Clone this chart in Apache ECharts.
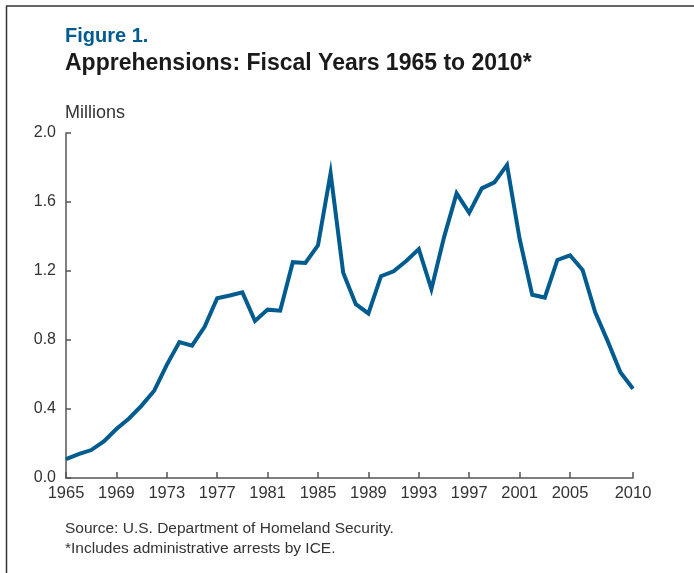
<!DOCTYPE html>
<html>
<head>
<meta charset="utf-8">
<script src="https://cdn.jsdelivr.net/npm/echarts@6/dist/echarts.min.js"></script>
<style>
html,body{margin:0;padding:0;background:#fff;}
#c{width:694px;height:573px;}
</style>
</head>
<body>
<div id="c"></div>
<script>
var years = [];
for (var y = 1965; y <= 2010; y++) years.push(String(y));
var apprehensions = [
  0.110, 0.139, 0.162, 0.212, 0.284, 0.345, 0.420, 0.506, 0.656, 0.788,
  0.767, 0.876, 1.042, 1.058, 1.076, 0.910, 0.976, 0.970, 1.251, 1.247,
  1.349, 1.767, 1.190, 1.008, 0.954, 1.170, 1.198, 1.258, 1.327, 1.095,
  1.395, 1.650, 1.537, 1.679, 1.714, 1.815, 1.387, 1.062, 1.046, 1.264,
  1.291, 1.206, 0.961, 0.792, 0.613, 0.517
];
var xTickLabels = ['1965','1969','1973','1977','1981','1985','1989','1993','1997','2001','2005','2010'];

var chart = echarts.init(document.getElementById('c'), null, {renderer: 'canvas'});
var font = '"Liberation Sans", Arial, sans-serif';
function showTick(idx, val) { return xTickLabels.indexOf(val) >= 0; }
chart.setOption({
  backgroundColor: '#ffffff',
  animation: false,
  textStyle: {fontFamily: font},
  title: [
    {text: 'Figure 1.', left: 60, top: 21, padding: 5, textStyle: {fontFamily: font, fontSize: 20, fontWeight: 'bold', color: '#005b8f'}},
    {text: 'Apprehensions: Fiscal Years 1965 to 2010*', left: 60, top: 47, padding: 5, textStyle: {fontFamily: font, fontSize: 23, fontWeight: 'bold', color: '#1a1a1a'}},
    {text: 'Millions', left: 60, top: 99, padding: 5, textStyle: {fontFamily: font, fontSize: 18, fontWeight: 'normal', color: '#333'}},
    {text: 'Source: U.S. Department of Homeland Security.\n*Includes administrative arrests by ICE.', left: 60, top: 514, padding: 5,
      textStyle: {fontFamily: font, fontSize: 15.5, fontWeight: 'normal', color: '#333', lineHeight: 20}}
  ],
  graphic: [
    {type: 'line', shape: {x1: 6, y1: 6, x2: 694, y2: 6}, style: {stroke: '#333', lineWidth: 1.5}},
    {type: 'line', shape: {x1: 6.5, y1: 6, x2: 6.5, y2: 573}, style: {stroke: '#333', lineWidth: 1.5}}
  ],
  grid: {left: 66, right: 61, top: 133, bottom: 95, containLabel: false},
  xAxis: {
    type: 'category',
    data: years,
    boundaryGap: false,
    axisLine: {lineStyle: {color: '#555', width: 1.5}},
    axisTick: {inside: true, length: 6, interval: showTick, lineStyle: {color: '#555', width: 1.5}},
    axisLabel: {interval: showTick, color: '#333', fontSize: 16.5, margin: 7, fontFamily: font},
    splitLine: {show: false}
  },
  yAxis: {
    type: 'value',
    min: 0, max: 2, interval: 0.4,
    axisLine: {show: true, lineStyle: {color: '#555', width: 1.5}},
    axisTick: {show: true, inside: true, length: 5, lineStyle: {color: '#555', width: 1.5}},
    axisLabel: {color: '#333', fontSize: 16, margin: 10, fontFamily: font, formatter: function (v) { return v.toFixed(1); }},
    splitLine: {show: false}
  },
  series: [{
    type: 'line',
    data: apprehensions,
    symbol: 'none',
    lineStyle: {color: '#005b8f', width: 4, join: 'miter'},
    itemStyle: {color: '#005b8f'}
  }]
});
</script>
</body>
</html>
